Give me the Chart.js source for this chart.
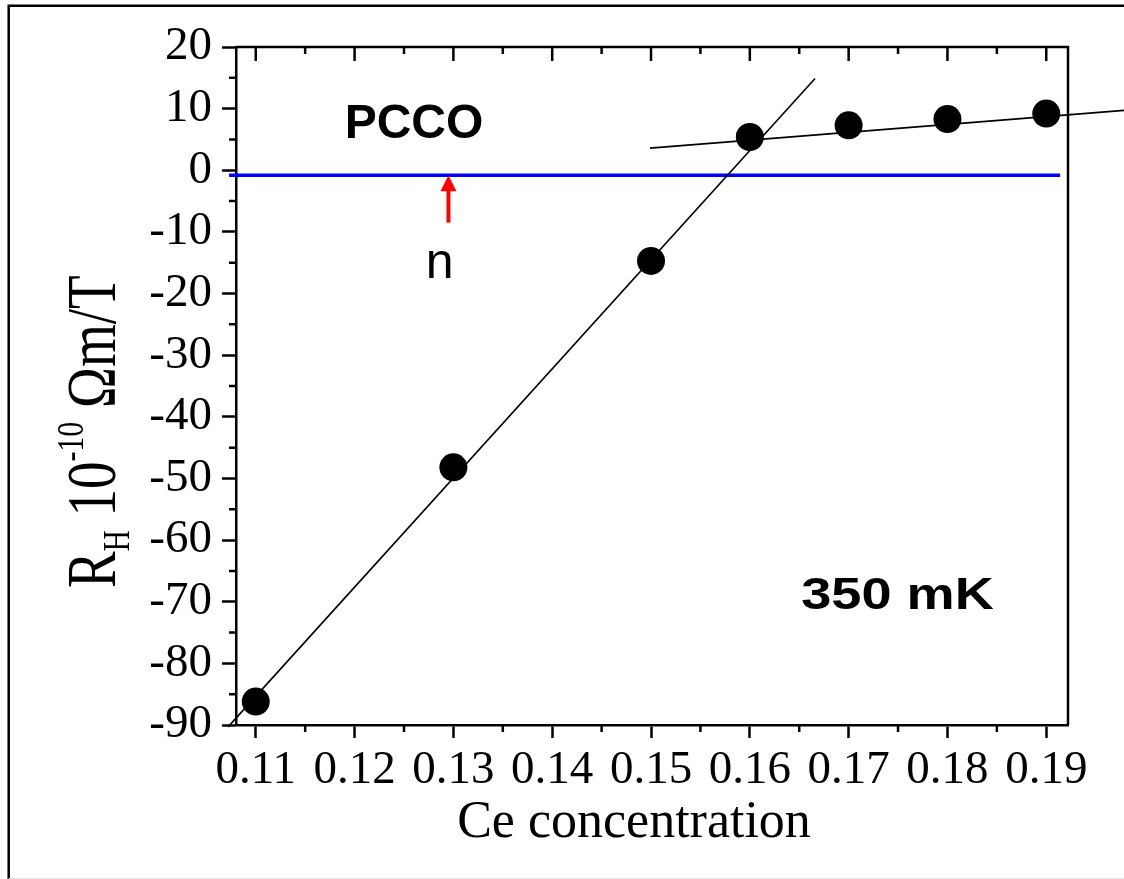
<!DOCTYPE html>
<html>
<head>
<meta charset="utf-8">
<style>
  *{margin:0;padding:0;box-sizing:border-box}
  html,body{width:1124px;height:879px;background:#fff;overflow:hidden}
  .chart-wrap{position:relative;width:1124px;height:879px}
</style>
</head>
<body>
<div class="chart-wrap"><canvas id="chart"></canvas></div>
<script src="https://cdn.jsdelivr.net/npm/chart.js@4/dist/chart.umd.min.js"></script>
<script>
// ─── Data ───────────────────────────────────────────────────────
const ceConc   = [0.11, 0.13, 0.15, 0.16, 0.17, 0.18, 0.19];
const hallCoef = [-86.2, -48.2, -14.7, 5.4, 7.3, 8.3, 9.2];

// linear fits drawn in the figure (end points)
const steepFitX = [0.1072, 0.1666];
const steepFitY = [-90.3, 14.9];
const flatFitX  = [0.1499, 0.1985];
const flatFitY  = [3.6, 9.8];

// blue reference line and the red arrow marking "n"
const refLineX = [0.1073, 0.1914];
const refLineY = [-0.8, -0.8];
const arrowX = 0.1295;
const arrowFromY = -8.5;
const arrowToY = -0.8;

// axes
const xTicks = [0.11, 0.12, 0.13, 0.14, 0.15, 0.16, 0.17, 0.18, 0.19];
const xMinorTicks = [0.115, 0.125, 0.135, 0.145, 0.155, 0.165, 0.175, 0.185];
const yTicks = [-90, -80, -70, -60, -50, -40, -30, -20, -10, 0, 10, 20];
const yMinorTicks = [-85, -75, -65, -55, -45, -35, -25, -15, -5, 5, 15];

// text annotations in data units
const notes = [
  { text: "PCCO",   x: 0.1190, y: 5.3,   font: "bold 48px 'Liberation Sans'", sx: 1 },
  { text: "350 mK", x: 0.1652, y: -71.2, font: "bold 44px 'Liberation Sans'", sx: 1.23 },
  { text: "n",      x: 0.1272, y: -17.5, font: "50px 'Liberation Sans'",      sx: 1 },
];

const SERIF = "'Liberation Serif', 'Times New Roman', serif";

// ─── Decorations: frame, minor ticks, arrow, titles ────────────
const decor = {
  id: "decor",
  beforeDraw(chart) {
    const { ctx, width, height } = chart;
    ctx.save();
    ctx.fillStyle = "#fff";
    ctx.fillRect(0, 0, width, height);
    ctx.strokeStyle = "#000";
    ctx.lineWidth = 2.5;
    ctx.beginPath();
    ctx.moveTo(8.7, height + 5);
    ctx.lineTo(8.7, 5.7);
    ctx.lineTo(width + 5, 5.7);
    ctx.stroke();
    ctx.strokeStyle = "#e4e4e4";
    ctx.lineWidth = 1;
    ctx.beginPath();
    ctx.moveTo(8.7, 878.5);
    ctx.lineTo(width, 878.5);
    ctx.stroke();
    ctx.restore();
  },
  afterDraw(chart) {
    const { ctx, chartArea: a, scales: { x, y } } = chart;
    ctx.save();

    // top and right frame + ticks
    ctx.strokeStyle = "#000";
    ctx.lineWidth = 2.5;
    ctx.beginPath();
    ctx.moveTo(a.left, a.top);
    ctx.lineTo(a.right, a.top);
    ctx.lineTo(a.right, a.bottom);
    xTicks.forEach(v => {
      const px = x.getPixelForValue(v);
      ctx.moveTo(px, a.top); ctx.lineTo(px, a.top + 14);
    });
    xMinorTicks.forEach(v => {
      const px = x.getPixelForValue(v);
      ctx.moveTo(px, a.top); ctx.lineTo(px, a.top + 7);
      ctx.moveTo(px, a.bottom); ctx.lineTo(px, a.bottom + 7);
    });
    yMinorTicks.forEach(v => {
      const py = y.getPixelForValue(v);
      ctx.moveTo(a.left, py); ctx.lineTo(a.left - 7, py);
    });
    ctx.stroke();

    // red arrow
    const ax = x.getPixelForValue(arrowX);
    const ay0 = y.getPixelForValue(arrowFromY);
    const ay1 = y.getPixelForValue(arrowToY);
    ctx.strokeStyle = "#ff0000";
    ctx.fillStyle = "#ff0000";
    ctx.lineWidth = 4;
    ctx.beginPath();
    ctx.moveTo(ax, ay0);
    ctx.lineTo(ax, ay1 + 14);
    ctx.stroke();
    ctx.beginPath();
    ctx.moveTo(ax, ay1);
    ctx.lineTo(ax - 8, ay1 + 16);
    ctx.lineTo(ax + 8, ay1 + 16);
    ctx.closePath();
    ctx.fill();

    // annotations
    ctx.fillStyle = "#000";
    ctx.textBaseline = "alphabetic";
    ctx.textAlign = "left";
    notes.forEach(n => {
      ctx.save();
      ctx.translate(x.getPixelForValue(n.x), y.getPixelForValue(n.y));
      ctx.scale(n.sx, 1);
      ctx.font = n.font;
      ctx.fillText(n.text, 0, 0);
      ctx.restore();
    });

    // x-axis title
    ctx.font = `52px ${SERIF}`;
    ctx.textAlign = "center";
    ctx.fillText("Ce concentration", (a.left + a.right) / 2 - 18, a.bottom + 112);

    // y-axis title, rotated, with sub/superscript
    const parts = [
      { t: "R",     size: 55, dy: 0 },
      { t: "H",     size: 29, dy: 11 },
      { t: " 10",   size: 55, dy: 0 },
      { t: "-10",   size: 30, dy: -25 },
      { t: " \u03A9m/T", size: 55, dy: 0 },
    ];
    ctx.save();
    ctx.translate(115, 588);
    ctx.rotate(-Math.PI / 2);
    ctx.scale(1, 1.28);
    ctx.textAlign = "left";
    let cx = 0;
    parts.forEach(p => {
      ctx.font = `${p.size}px ${SERIF}`;
      ctx.fillText(p.t, cx, p.dy);
      cx += ctx.measureText(p.t).width;
    });
    ctx.restore();

    ctx.restore();
  },
};

// ─── Chart ─────────────────────────────────────────────────────
const toXY = (xs, ys) => xs.map((v, i) => ({ x: v, y: ys[i] }));

const lineDs = (data, color, w) => ({
  type: "line",
  data,
  borderColor: color,
  borderWidth: w,
  pointRadius: 0,
  fill: false,
  tension: 0,
  clip: false,
});

const tickFont = { family: SERIF, size: 47 };

new Chart(document.getElementById("chart"), {
  type: "scatter",
  data: {
    datasets: [
      {
        data: toXY(ceConc, hallCoef),
        backgroundColor: "#000",
        borderWidth: 0,
        pointRadius: 14,
        pointHoverRadius: 14,
      },
      lineDs(toXY(steepFitX, steepFitY), "#000", 1.6),
      lineDs(toXY(flatFitX, flatFitY), "#000", 1.6),
      lineDs(toXY(refLineX, refLineY), "#0000ff", 3.5),
    ],
  },
  options: {
    responsive: true,
    maintainAspectRatio: false,
    animation: false,
    events: [],
    layout: { padding: { left: 0, top: 47, right: 56, bottom: 0 } },
    plugins: { legend: { display: false }, tooltip: { enabled: false } },
    scales: {
      x: {
        type: "linear",
        min: 0.108,
        max: 0.1922,
        afterBuildTicks: s => { s.ticks = xTicks.map(v => ({ value: v })); },
        afterFit: s => { s.height = 154; },
        grid: { display: true, drawOnChartArea: false, drawTicks: true, tickLength: 13, tickWidth: 2.5, tickColor: "#000" },
        border: { display: true, color: "#000", width: 2.5 },
        ticks: {
          color: "#000",
          font: tickFont,
          padding: 4,
          maxRotation: 0,
          autoSkip: false,
          callback: v => v.toFixed(2),
        },
      },
      y: {
        type: "linear",
        min: -90,
        max: 20,
        afterBuildTicks: s => { s.ticks = yTicks.map(v => ({ value: v })); },
        afterFit: s => { s.width = 236; },
        grid: { display: true, drawOnChartArea: false, drawTicks: true, tickLength: 14, tickWidth: 2.5, tickColor: "#000" },
        border: { display: true, color: "#000", width: 2.5 },
        ticks: {
          color: "#000",
          font: tickFont,
          padding: 10,
          autoSkip: false,
          callback: v => String(v),
        },
      },
    },
  },
  plugins: [decor],
});
</script>
</body></html>
